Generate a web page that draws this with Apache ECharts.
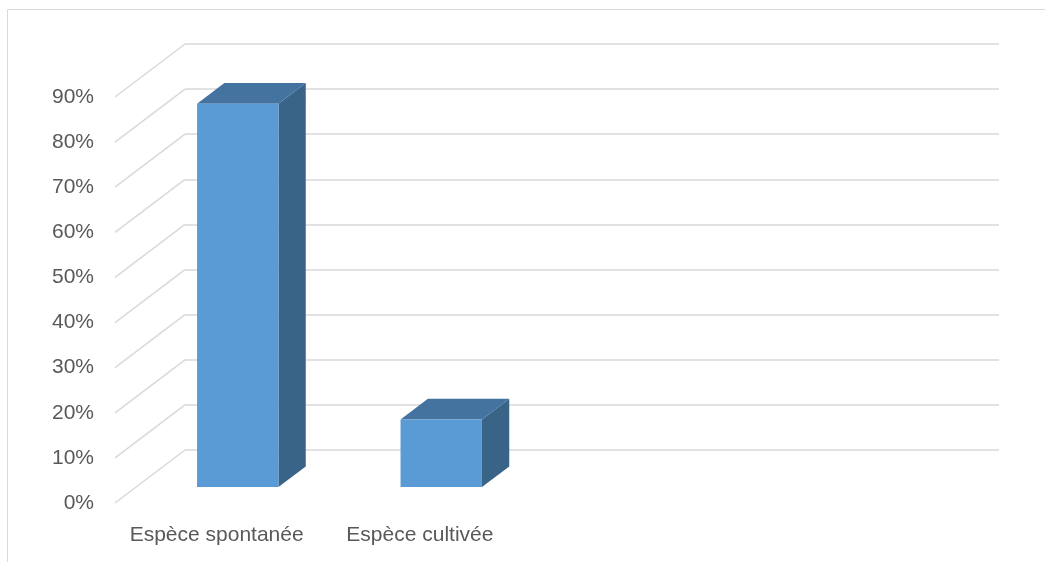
<!DOCTYPE html>
<html>
<head>
<meta charset="utf-8">
<script src="https://cdn.jsdelivr.net/npm/echarts@6/dist/echarts.min.js"></script>
<style>
  html, body { margin: 0; padding: 0; background: #ffffff; }
  #chart { width: 1045px; height: 562px; }
</style>
</head>
<body>
<div id="chart"></div>
<script>
// Share of species by origin (percent)
const categories = ['Espèce spontanée', 'Espèce cultivée'];
const shares = [85, 15];
const yTicks = [0, 10, 20, 30, 40, 50, 60, 70, 80, 90];

// Front plane (axis labels) and back wall (gridlines) of the 3D box
const FRONT = { left: 115, right: 117, top: 97, bottom: 59 };
const BACK = { left: 185, right: 46, top: 44, bottom: 112 };
const DX = BACK.left - FRONT.left;   // back wall shift, x
const DY = BACK.top - FRONT.top;     // back wall shift, y
const FRONT_DEPTH = 0.70;            // bar front face, fraction from back wall
const BACK_DEPTH = 0.31;             // bar back face
const BAR_WIDTH = 0.40;              // share of the category band

const GRID_COLOR = '#d9d9d9';
const TEXT_COLOR = '#595959';
const FONT = '"Liberation Sans", Arial, sans-serif';

const chart = echarts.init(document.getElementById('chart'), null, { renderer: 'canvas' });

function renderDiagonal(params, api) {
  const p = api.coord([0, api.value(0)]);
  const x0 = params.coordSys.x;
  return {
    type: 'line',
    shape: { x1: x0, y1: p[1], x2: x0 + DX, y2: p[1] + DY },
    style: { stroke: GRID_COLOR, lineWidth: 1.5 },
    silent: true
  };
}

function renderBar(params, api) {
  const cat = api.value(0);
  const val = api.value(1);
  const base = api.coord([cat, 0]);
  const top = api.coord([cat, val]);
  const band = api.size([1, 0])[0];
  const w = band * BAR_WIDTH;
  const xl = base[0] - w / 2, xr = base[0] + w / 2;
  const fx = -DX * FRONT_DEPTH, fy = -DY * FRONT_DEPTH;
  const bx = -DX * BACK_DEPTH, by = -DY * BACK_DEPTH;
  const yt = top[1], yb = base[1];
  return {
    type: 'group',
    children: [
      {
        type: 'polygon',
        shape: { points: [[xr + fx, yt + fy], [xr + bx, yt + by], [xr + bx, yb + by], [xr + fx, yb + fy]] },
        style: { fill: '#3a6388' }
      },
      {
        type: 'polygon',
        shape: { points: [[xl + fx, yt + fy], [xr + fx, yt + fy], [xr + bx, yt + by], [xl + bx, yt + by]] },
        style: { fill: '#44739f' }
      },
      {
        type: 'polygon',
        shape: { points: [[xl + fx, yt + fy], [xr + fx, yt + fy], [xr + fx, yb + fy], [xl + fx, yb + fy]] },
        style: { fill: '#5b9bd5' }
      }
    ]
  };
}

const option = {
  backgroundColor: '#ffffff',
  animation: false,
  graphic: [{
    type: 'rect',
    shape: { x: 7.5, y: 9.5, width: 1100, height: 600 },
    style: { fill: 'none', stroke: GRID_COLOR, lineWidth: 1 },
    silent: true,
    z: -10
  }],
  grid: [
    { left: FRONT.left, right: FRONT.right, top: FRONT.top, bottom: FRONT.bottom, containLabel: false },
    { left: BACK.left, right: BACK.right, top: BACK.top, bottom: BACK.bottom, containLabel: false }
  ],
  xAxis: [
    {
      type: 'category', gridIndex: 0, data: categories, max: 3,
      axisLine: { show: false }, axisTick: { show: false },
      axisLabel: { color: TEXT_COLOR, fontFamily: FONT, fontSize: 21, margin: 22, interval: 0 }
    },
    {
      type: 'category', gridIndex: 1, data: categories, max: 3,
      axisLine: { show: false }, axisTick: { show: false }, axisLabel: { show: false }
    }
  ],
  yAxis: [
    {
      type: 'value', gridIndex: 0, min: 0, max: 90, interval: 10,
      axisLine: { show: false }, axisTick: { show: false }, splitLine: { show: false },
      axisLabel: {
        color: TEXT_COLOR, fontFamily: FONT, fontSize: 21, margin: 21,
        padding: [5, 0, 0, 0], formatter: v => v + '%'
      }
    },
    {
      type: 'value', gridIndex: 1, min: 0, max: 90, interval: 10,
      axisLine: { show: false }, axisTick: { show: false }, axisLabel: { show: false },
      splitLine: { show: true, lineStyle: { color: GRID_COLOR, width: 1.5 } }
    }
  ],
  series: [
    {
      type: 'custom', name: 'wall', xAxisIndex: 0, yAxisIndex: 0,
      renderItem: renderDiagonal, data: yTicks.map(v => [v]), silent: true, z: 1
    },
    {
      type: 'custom', name: 'Part', xAxisIndex: 1, yAxisIndex: 1,
      renderItem: renderBar, data: categories.map((c, i) => [i, shares[i]]), z: 5
    }
  ]
};

chart.setOption(option);
</script>
</body>
</html>
